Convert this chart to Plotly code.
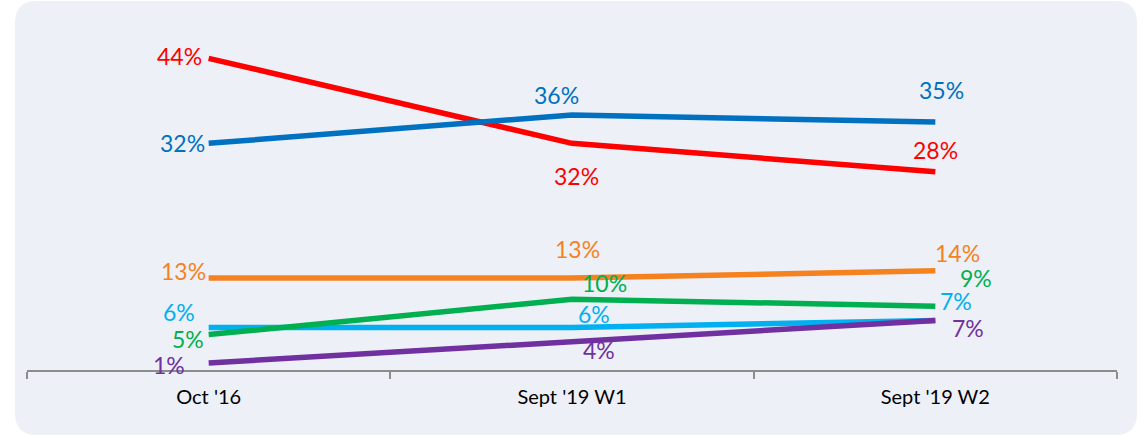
import plotly.graph_objects as go

categories = ["Oct '16", "Sept '19 W1", "Sept '19 W2"]

red_vals = [44, 32, 28]
blue_vals = [32, 36, 35]
orange_vals = [13, 13, 14]
green_vals = [5, 10, 9]
lightblue_vals = [6, 6, 7]
purple_vals = [1, 4, 7]

W, H = 1143, 436
L, R, T, B = 27, 26, 30, 66
Y_MAX = 48

# (x shift, y shift, anchor) for each point label
series = [
    ("Light blue", lightblue_vals, "#00B0F0",
     [(-12, 16, "right"), (22, 14, "center"), (3, 19, "left")]),
    ("Green", green_vals, "#00B050",
     [(-3, -4, "right"), (32, 16, "center"), (23, 28, "left")]),
    ("Purple", purple_vals, "#7030A0",
     [(-22, -2, "right"), (27, -8, "center"), (15, -8, "left")]),
    ("Orange", orange_vals, "#F5821F",
     [(-1, 7, "right"), (5, 29, "center"), (22, 18, "center")]),
    ("Red", red_vals, "#FF0000",
     [(-5, 2, "right"), (4, -33, "center"), (0, 22, "center")]),
    ("Blue", blue_vals, "#0070C0",
     [(-2, 0, "right"), (-16, 20, "center"), (6, 32, "center")]),
]

fig = go.Figure()
annotations = []
for name, vals, color, offs in series:
    fig.add_trace(go.Scatter(
        x=categories, y=vals, mode="lines", name=name,
        line=dict(color=color, width=5.5), hoverinfo="skip",
    ))
    for cat, v, (dx, dy, anchor) in zip(categories, vals, offs):
        annotations.append(dict(
            x=cat, y=v, text=f"{v}%", showarrow=False,
            xanchor=anchor, yanchor="middle", xshift=dx, yshift=dy,
            font=dict(family="Lato", size=23, color=color),
        ))

# rounded panel behind the chart, given in pixels and mapped to paper units
pw, ph = W - L - R, H - T - B
def px(x):
    return (x - L) / pw
def py(y):
    return (H - B - y) / ph

x0, x1, y0, y1, r = 15, 1137, 1, 435, 22
panel = (
    f"M {px(x0 + r)},{py(y0)} L {px(x1 - r)},{py(y0)} "
    f"Q {px(x1)},{py(y0)} {px(x1)},{py(y0 + r)} "
    f"L {px(x1)},{py(y1 - r)} Q {px(x1)},{py(y1)} {px(x1 - r)},{py(y1)} "
    f"L {px(x0 + r)},{py(y1)} Q {px(x0)},{py(y1)} {px(x0)},{py(y1 - r)} "
    f"L {px(x0)},{py(y0 + r)} Q {px(x0)},{py(y0)} {px(x0 + r)},{py(y0)} Z"
)

fig.update_layout(
    width=W, height=H,
    margin=dict(l=L, r=R, t=T, b=B),
    paper_bgcolor="white", plot_bgcolor="rgba(0,0,0,0)",
    showlegend=False,
    annotations=annotations,
    shapes=[dict(type="path", path=panel, xref="paper", yref="paper",
                 fillcolor="#EDF0F7", line=dict(width=0), layer="below")],
    xaxis=dict(
        type="category", range=[-0.5, 2.5], tickson="boundaries",
        showline=True, linecolor="#8C8C8C", linewidth=1.5,
        ticks="outside", ticklen=7, tickcolor="#8C8C8C", tickwidth=1.5,
        ticklabelstandoff=8,
        showgrid=False, zeroline=False,
        tickfont=dict(family="Lato", size=20, color="#000000"),
    ),
    yaxis=dict(range=[0, Y_MAX], visible=False, showgrid=False, zeroline=False),
)

fig.write_html("out.html")
